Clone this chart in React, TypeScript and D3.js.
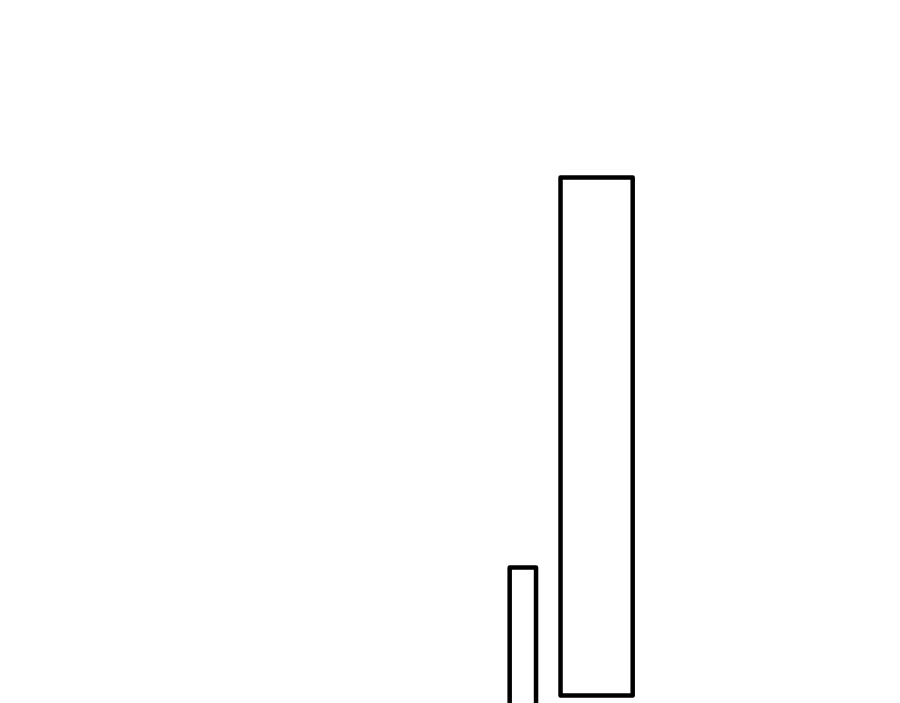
import React, { useEffect, useRef } from 'react';
import * as d3 from 'd3';

// bars as ranges: horizontal extent and vertical extent in data units
const barNames = ['A', 'B'];
const xStarts = [56.63, 62.28];
const xEnds = [59.56, 70.3];
const yLows = [-10, 0];
const yHighs = [24.7, 100];

const WIDTH = 900;
const HEIGHT = 703;

function App() {
  const svgRef = useRef<SVGSVGElement>(null);

  useEffect(() => {
    const svg = d3.select(svgRef.current);
    svg.selectAll('*').remove();

    const x = d3.scaleLinear().domain([0, 100]).range([0, WIDTH]);
    const y = d3.scaleLinear().domain([0, 100]).range([695.5, 177.5]);

    const bars = barNames.map((name, i) => ({
      name,
      x0: xStarts[i],
      x1: xEnds[i],
      lo: yLows[i],
      hi: yHighs[i],
    }));

    svg
      .selectAll('rect.bar')
      .data(bars)
      .join('rect')
      .attr('class', 'bar')
      .attr('x', d => x(d.x0))
      .attr('width', d => x(d.x1) - x(d.x0))
      .attr('y', d => y(d.hi))
      .attr('height', d => y(d.lo) - y(d.hi))
      .attr('fill', 'none')
      .attr('stroke', '#000')
      .attr('stroke-width', 4.5)
      .attr('stroke-linejoin', 'round');
  }, []);

  return (
    <svg
      ref={svgRef}
      width={WIDTH}
      height={HEIGHT}
      style={{ position: 'absolute', top: 0, left: 0, background: '#fff' }}
    ></svg>
  );
}

export default App;
